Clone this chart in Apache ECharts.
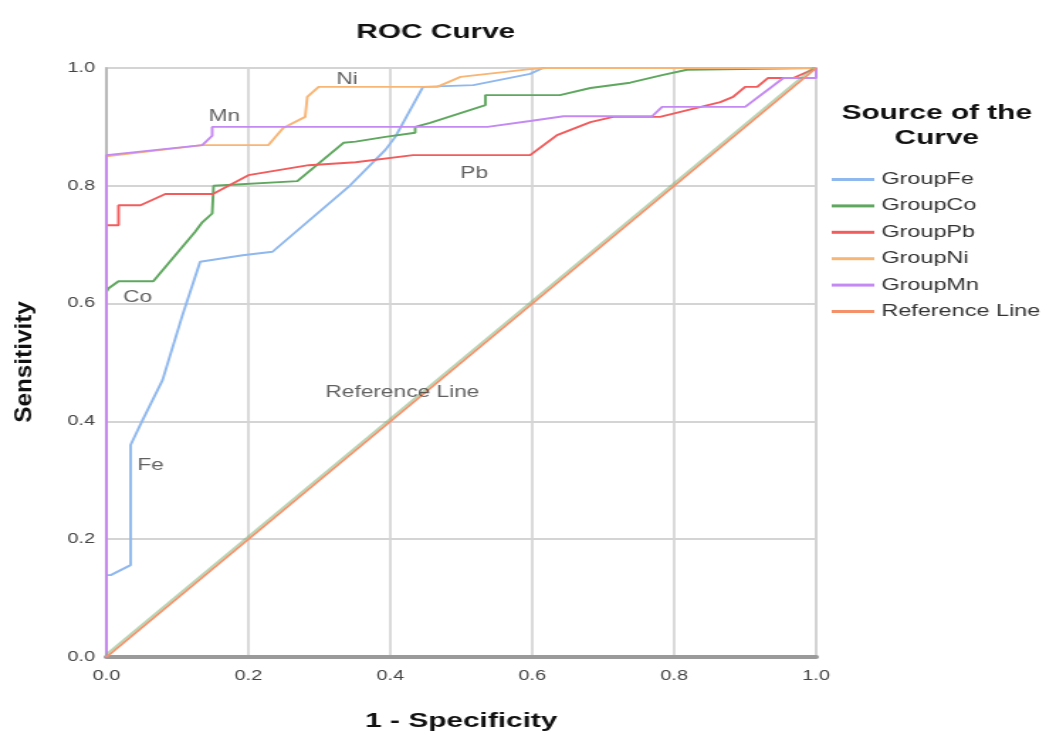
<!DOCTYPE html>
<html lang="en">
<head>
    <meta charset="utf-8">
    <title>ROC Curve</title>
    <script src="https://cdn.jsdelivr.net/npm/echarts@6/dist/echarts.min.js"></script>
    <style>
        html, body { margin: 0; padding: 0; background: #fff; overflow: hidden; }
        /* the source picture has wide, stretched lettering: draw narrow, then widen */
        #main { width: 737px; height: 734px; transform: scaleX(1.4193); transform-origin: 0 0; }
    </style>
</head>
<body>
<div id="main"></div>
<script type="text/javascript">
    // curve points: 1 - specificity (x) and sensitivity (y)
    var fprFe = [0, 0, 0.006, 0.034, 0.034, 0.05, 0.079, 0.107, 0.132, 0.192, 0.234, 0.341, 0.393, 0.407, 0.446, 0.517, 0.597, 0.615, 1.0];
    var tprFe = [0, 0.139, 0.139, 0.156, 0.36, 0.40, 0.47, 0.58, 0.671, 0.682, 0.688, 0.798, 0.861, 0.883, 0.968, 0.971, 0.99, 1.0, 1.0];

    var fprCo = [0, 0, 0.003, 0.017, 0.066, 0.125, 0.135, 0.149, 0.151, 0.269, 0.334, 0.351, 0.393, 0.435, 0.435, 0.456, 0.534, 0.534, 0.639, 0.682, 0.738, 0.783, 0.818, 0.82, 1.0];
    var tprCo = [0, 0.62, 0.626, 0.638, 0.638, 0.722, 0.738, 0.753, 0.80, 0.808, 0.873, 0.875, 0.883, 0.89, 0.90, 0.907, 0.937, 0.954, 0.954, 0.966, 0.975, 0.988, 0.997, 1.0, 1.0];

    var fprPb = [0, 0, 0.017, 0.017, 0.048, 0.083, 0.15, 0.2, 0.285, 0.351, 0.432, 0.597, 0.635, 0.682, 0.714, 0.78, 0.865, 0.883, 0.9, 0.917, 0.932, 0.968, 1.0];
    var tprPb = [0, 0.733, 0.733, 0.767, 0.767, 0.786, 0.786, 0.818, 0.835, 0.84, 0.852, 0.852, 0.886, 0.908, 0.917, 0.917, 0.942, 0.951, 0.968, 0.968, 0.983, 0.983, 1.0];

    var fprNi = [0, 0, 0.135, 0.228, 0.249, 0.28, 0.283, 0.299, 0.466, 0.499, 0.597, 0.62, 1.0];
    var tprNi = [0, 0.85, 0.869, 0.869, 0.898, 0.917, 0.951, 0.968, 0.968, 0.985, 0.998, 1.0, 1.0];

    var fprMn = [0, 0, 0.135, 0.149, 0.149, 0.537, 0.597, 0.644, 0.769, 0.783, 0.9, 0.954, 0.99, 1.0, 1.0];
    var tprMn = [0, 0.852, 0.869, 0.885, 0.90, 0.90, 0.91, 0.918, 0.918, 0.934, 0.934, 0.983, 0.983, 0.983, 1.0];

    var fprRef = [0, 1];
    var tprRef = [0, 1];

    var seriesNames = ['GroupFe', 'GroupCo', 'GroupPb', 'GroupNi', 'GroupMn', 'Reference Line'];
    var seriesColors = ['#8fb8ee', '#5fa75f', '#f25c5c', '#f9b573', '#c489f3', '#f5916a'];

    // text labels placed on the plot
    var labelTexts = ['Ni', 'Mn', 'Pb', 'Co', 'Fe', 'Reference Line'];
    var labelX = [0.339, 0.166, 0.518, 0.044, 0.062, 0.417];
    var labelY = [0.98, 0.917, 0.82, 0.611, 0.325, 0.449];

    function pairs(xs, ys) {
        var out = [];
        for (var i = 0; i < xs.length; i++) out.push([xs[i], ys[i]]);
        return out;
    }

    var curves = [
        pairs(fprFe, tprFe),
        pairs(fprCo, tprCo),
        pairs(fprPb, tprPb),
        pairs(fprNi, tprNi),
        pairs(fprMn, tprMn),
        pairs(fprRef, tprRef)
    ];

    var series = [];
    for (var k = 0; k < curves.length; k++) {
        var s = {
            name: seriesNames[k],
            type: 'line',
            data: curves[k],
            showSymbol: false,
            symbol: 'none',
            animation: false,
            color: seriesColors[k],
            lineStyle: {width: 1.9, color: seriesColors[k]},
            z: 3 + k
        };
        if (k === 5) {
            // faint green edge beside the diagonal
            s.lineStyle.shadowColor = 'rgba(120,180,120,0.55)';
            s.lineStyle.shadowBlur = 0;
            s.lineStyle.shadowOffsetX = -1;
            s.lineStyle.shadowOffsetY = -1.5;
        }
        series.push(s);
    }

    var labelData = [];
    for (var j = 0; j < labelTexts.length; j++) {
        labelData.push({value: [labelX[j], labelY[j]], name: labelTexts[j]});
    }
    series.push({
        type: 'scatter',
        data: labelData,
        symbolSize: 0,
        silent: true,
        animation: false,
        z: 20,
        label: {
            show: true,
            position: 'inside',
            formatter: function (p) { return p.name; },
            color: '#3a3a3a',
            fontFamily: 'Liberation Sans',
            fontSize: 16
        }
    });

    var myChart = echarts.init(document.getElementById('main'));
    var option = {
        backgroundColor: '#fff',
        animation: false,
        title: [
            {
                text: 'ROC Curve',
                left: 302,
                top: 17,
                textAlign: 'center',
                textStyle: {fontFamily: 'Liberation Sans', fontWeight: 'bold', fontSize: 21, color: '#111'}
            },
            {
                text: 'Source of the\nCurve',
                left: 655,
                top: 96,
                textAlign: 'center',
                textStyle: {fontFamily: 'Liberation Sans', fontWeight: 'bold', fontSize: 21, color: '#111', lineHeight: 25}
            }
        ],
        legend: {
            orient: 'vertical',
            left: 581,
            top: 166,
            itemWidth: 30,
            itemHeight: 3,
            itemGap: 9.4,
            icon: 'rect',
            data: seriesNames,
            textStyle: {fontFamily: 'Liberation Sans', fontSize: 16.5, lineHeight: 17, color: '#333'}
        },
        graphic: [
            {
                type: 'text',
                x: 17.6,
                y: 362,
                rotation: Math.PI / 2,
                scaleX: 1.52,
                style: {
                    text: 'Sensitivity',
                    fill: '#111',
                    font: 'bold 16px "Liberation Sans"',
                    textAlign: 'center',
                    textVerticalAlign: 'middle'
                }
            }
        ],
        grid: {
            left: 75,
            right: 162,
            top: 68,
            bottom: 77,
            outerBoundsMode: 'none',
            show: true,
            borderColor: '#cfcfcf',
            borderWidth: 2
        },
        xAxis: {
            type: 'value',
            min: 0,
            max: 1,
            interval: 0.2,
            name: '1 - Specificity',
            nameLocation: 'middle',
            nameGap: 54,
            nameTextStyle: {fontFamily: 'Liberation Sans', fontWeight: 'bold', fontSize: 21, color: '#111'},
            axisLine: {show: true, lineStyle: {color: '#9a9a9a', width: 4}},
            axisTick: {show: false},
            axisLabel: {
                fontFamily: 'Liberation Sans',
                fontSize: 14,
                color: '#444',
                margin: 12,
                formatter: function (v) { return v.toFixed(1); }
            },
            splitLine: {show: true, lineStyle: {color: '#d4d4d4', width: 1.7}}
        },
        yAxis: {
            type: 'value',
            min: 0,
            max: 1,
            interval: 0.2,
            axisLine: {show: true, lineStyle: {color: '#b0b0b0', width: 1.5}},
            axisTick: {show: false},
            axisLabel: {
                fontFamily: 'Liberation Sans',
                fontSize: 14,
                color: '#444',
                margin: 8,
                formatter: function (v) { return v.toFixed(1); }
            },
            splitLine: {show: true, lineStyle: {color: '#d4d4d4', width: 2}}
        },
        series: series
    };
    myChart.setOption(option);
</script>
</body>
</html>
